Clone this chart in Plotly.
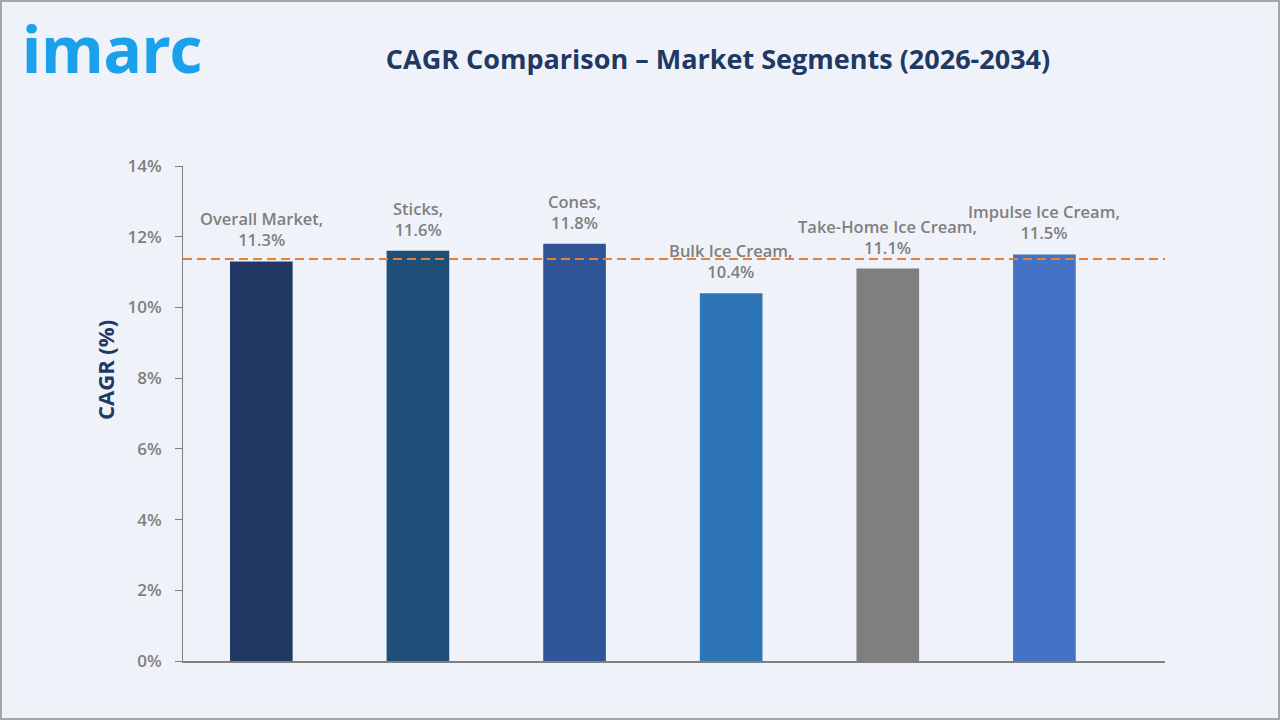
import plotly.graph_objects as go

# Data
categories = ["Overall Market", "Sticks", "Cones", "Bulk Ice Cream", "Take-Home Ice Cream", "Impulse Ice Cream"]
cagr_values = [11.3, 11.6, 11.8, 10.4, 11.1, 11.5]
bar_colors = ["#203864", "#1F4E79", "#2F5597", "#2E75B6", "#7F7F7F", "#4472C4"]
reference_cagr = 11.37
y_ticks = [0, 2, 4, 6, 8, 10, 12, 14]

W, H = 1280, 720
L, R, T, B = 183, 115, 166, 59
pw, ph = W - L - R, H - T - B

xs = list(range(len(categories)))
fig = go.Figure()
fig.add_trace(go.Bar(
    x=xs, y=cagr_values, marker=dict(color=bar_colors, line=dict(width=0)),
    width=0.40, hoverinfo="skip", showlegend=False,
))

font_family = "'Open Sans', sans-serif"
for x, c, v in zip(xs, categories, cagr_values):
    fig.add_annotation(
        x=x, y=v, xref="x", yref="y", yanchor="bottom", yshift=8,
        text=f"{c},<br>{v:.1f}%", showarrow=False,
        font=dict(family=font_family, size=16.5, color="#7F7F7F", weight=600),
    )

# reference dashed line
fig.add_shape(type="line", xref="paper", yref="y", x0=0, x1=1,
              y0=reference_cagr, y1=reference_cagr,
              line=dict(color="#ED7D31", width=2, dash="9px,5px"))

# border
fig.add_shape(type="rect", xref="paper", yref="paper",
              x0=-L / pw + 1 / pw, x1=1 + R / pw - 1 / pw,
              y0=-B / ph + 1 / ph, y1=1 + T / ph - 1 / ph,
              line=dict(color="#A6A6A6", width=2), fillcolor="rgba(0,0,0,0)", layer="above")

# logo
fig.add_annotation(x=(20 - L) / pw, y=(H - 48 - B) / ph, xref="paper", yref="paper",
                   text="imarc", showarrow=False, xanchor="left", yanchor="middle",
                   font=dict(family="'Noto Sans', sans-serif", size=64, color="#1BA1EC", weight="bold"))

# y axis title
fig.add_annotation(x=(88 - L) / pw, y=(H - 370 - B) / ph, xref="paper", yref="paper",
                   text="CAGR (%)", textangle=-90, showarrow=False,
                   font=dict(family=font_family, size=22, color="#1F3864", weight="bold"))

fig.update_layout(
    width=W, height=H,
    margin=dict(l=L, r=R, t=T, b=B, pad=0),
    paper_bgcolor="#EFF3F9", plot_bgcolor="#EFF3F9",
    title=dict(text="CAGR Comparison – Market Segments (2026-2034)",
               x=718 / W, xanchor="center", y=1 - 60 / H, yanchor="middle",
               xref="container", yref="container",
               font=dict(family=font_family, size=27, color="#1F3864", weight="bold")),
    bargap=0.6,
)
fig.update_xaxes(range=[-0.5, 5.77], showticklabels=False, showgrid=False, zeroline=False,
                 showline=True, linecolor="#7F7F7F", linewidth=1.5, ticks="")
fig.update_yaxes(range=[0, 14], tickvals=y_ticks, ticktext=[f"{t}%" for t in y_ticks],
                 showgrid=False, zeroline=False, showline=True, linecolor="#7F7F7F", linewidth=1,
                 ticks="outside", ticklen=7, tickcolor="#7F7F7F", ticklabelstandoff=10,
                 tickfont=dict(family=font_family, size=17, color="#7F7F7F", weight=600))

fig.write_html("out.html")
